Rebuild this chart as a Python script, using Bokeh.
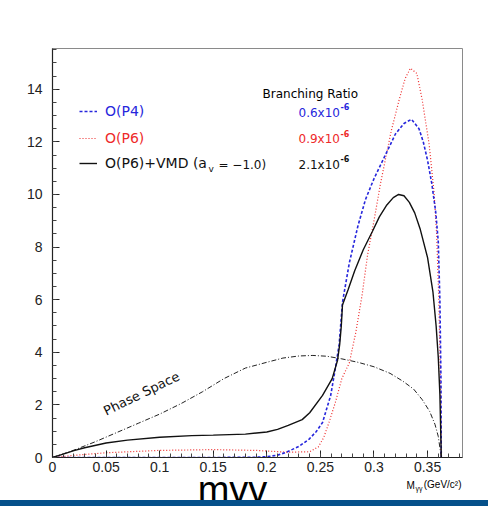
import numpy as np
from bokeh.plotting import figure
from bokeh.models import Label, Legend, LegendItem, FixedTicker, Div, Range1d, CustomJSTickFormatter
from bokeh.layouts import column
from bokeh.embed import file_html
from bokeh.resources import INLINE

# ---- data (M_gg in GeV/c^2, arbitrary units) ----
m_vmd = [0, 0.01, 0.02, 0.03, 0.05, 0.07, 0.1, 0.13, 0.15, 0.18, 0.2, 0.21, 0.22,
         0.233, 0.24, 0.252, 0.261, 0.266, 0.268, 0.2695, 0.2706, 0.276, 0.282, 0.29,
         0.2986, 0.305, 0.312, 0.318, 0.323, 0.328, 0.333, 0.338, 0.343, 0.35, 0.355,
         0.358, 0.36, 0.3615, 0.3628]
v_vmd = [0, 0.13, 0.26, 0.37, 0.55, 0.66, 0.77, 0.83, 0.85, 0.89, 0.97, 1.07, 1.22,
         1.44, 1.7, 2.36, 3.0, 3.7, 4.3, 5.0, 5.8, 6.4, 7.1, 7.9,
         8.6, 9.15, 9.6, 9.88, 10.0, 9.95, 9.7, 9.3, 8.7, 7.6, 6.3,
         5.0, 3.8, 2.4, 0]

m_p4 = [0, 0.05, 0.1, 0.15, 0.19, 0.2, 0.21, 0.2175, 0.23, 0.2395, 0.246, 0.252,
        0.2596, 0.264, 0.2675, 0.2706, 0.277, 0.285, 0.292, 0.3, 0.31, 0.32, 0.328,
        0.335, 0.342, 0.346, 0.35, 0.354, 0.3577, 0.36, 0.3615, 0.3625, 0.3628]
v_p4 = [0, 0, 0, 0, 0.01, 0.03, 0.09, 0.19, 0.42, 0.7, 0.98, 1.33,
        2.36, 3.4, 4.3, 5.9, 7.4, 8.8, 9.8, 10.6, 11.45, 12.3, 12.7,
        12.86, 12.5, 12.0, 11.3, 10.4, 9.3, 8.2, 6.0, 3.0, 0]

m_p6 = [0, 0.02, 0.05, 0.1, 0.15, 0.19, 0.22, 0.24, 0.248, 0.253, 0.258, 0.264,
        0.27, 0.277, 0.283, 0.289, 0.294, 0.3, 0.306, 0.316, 0.3235, 0.329, 0.334,
        0.34, 0.345, 0.3515, 0.356, 0.3585, 0.3605, 0.362, 0.3628]
v_p6 = [0, 0.08, 0.18, 0.27, 0.3, 0.27, 0.2, 0.22, 0.4, 0.75, 1.33, 2.1,
        3.0, 3.6, 4.75, 6.2, 7.7, 9.0, 10.4, 12.4, 13.6, 14.4, 14.8,
        14.6, 13.6, 11.9, 10.1, 8.5, 6.0, 3.0, 0]

m_ps = [0, 0.02, 0.04, 0.06, 0.08, 0.1, 0.12, 0.14, 0.16, 0.18, 0.2, 0.215, 0.23,
        0.243, 0.256, 0.27, 0.285, 0.3, 0.315, 0.327, 0.337, 0.345, 0.352, 0.357,
        0.36, 0.3628]
v_ps = [0, 0.28, 0.6, 0.95, 1.3, 1.65, 2.05, 2.5, 3.0, 3.4, 3.62, 3.78, 3.86,
        3.88, 3.85, 3.75, 3.62, 3.45, 3.2, 2.9, 2.6, 2.2, 1.75, 1.25,
        0.8, 0]

x_ticks = [0.0, 0.05, 0.1, 0.15, 0.2, 0.25, 0.3, 0.35]
x_tick_labels = ["0", "0.05", "0.1", "0.15", "0.2", "0.25", "0.3", "0.35"]
y_ticks = [0.0, 2.0, 4.0, 6.0, 8.0, 10.0, 12.0, 14.0]
y_tick_labels = ["0", "2", "4", "6", "8", "10", "12", "14"]

series_names = ["O(P4)", "O(P6)", "O(P6)+VMD (a"]
branching = ["0.6x10", "0.9x10", "2.1x10"]

BLUE = "#2626dc"
RED = "#ee2a2a"
BLACK = "#111111"

X0, X1 = 0.0, 0.3826
Y0, Y1 = 0.0, 15.55

p = figure(width=488, height=479, output_backend="svg", toolbar_location=None,
           x_range=Range1d(X0, X1), y_range=Range1d(Y0, Y1),
           min_border_left=52, min_border_right=26, min_border_top=48,
           min_border_bottom=22)
p.background_fill_color = "white"
p.border_fill_color = "white"
p.outline_line_color = "#8a8a8a"
p.outline_line_width = 1
p.xgrid.visible = False
p.ygrid.visible = False

p.xaxis.ticker = FixedTicker(ticks=x_ticks,
                             minor_ticks=[float(v) for v in np.round(np.arange(0, 0.381, 0.01), 3)])
p.yaxis.ticker = FixedTicker(ticks=y_ticks,
                             minor_ticks=[float(v) for v in np.arange(0, 15.6, 0.5)])
p.xaxis.formatter = CustomJSTickFormatter(
    code="var s = tick.toFixed(2); if (s.indexOf('.')>=0) { s = s.replace(/0+$/, '').replace(/\\.$/, ''); } return s;")
p.yaxis.formatter = CustomJSTickFormatter(code="return tick.toFixed(0);")
p.xaxis.major_label_overrides = dict(zip(x_ticks, x_tick_labels))
p.yaxis.major_label_overrides = dict(zip(y_ticks, y_tick_labels))

for ax in (p.xaxis[0], p.yaxis[0]):
    ax.major_tick_in = 7
    ax.major_tick_out = 0
    ax.minor_tick_in = 4
    ax.minor_tick_out = 0
    ax.axis_line_color = "#222222"
    ax.axis_line_width = 1.2
    ax.major_tick_line_color = "#222222"
    ax.minor_tick_line_color = "#444444"
    ax.major_label_text_font = "Liberation Sans"
    ax.major_label_text_font_size = "14px"
    ax.major_label_text_color = "#222222"
p.yaxis.major_label_standoff = 10
p.xaxis.major_label_standoff = 4

# ---- curves ----
r_ps = p.line(m_ps, v_ps, line_color="#222222", line_width=1, line_dash="5 2 1 2")
r_p6 = p.line(m_p6, v_p6, line_color=RED, line_width=1.2, line_dash="1 2")
r_p4 = p.line(m_p4, v_p4, line_color=BLUE, line_width=1.6, line_dash="3 2")
r_vmd = p.line(m_vmd, v_vmd, line_color=BLACK, line_width=1.4)

# ---- legend (one Legend per row so each label keeps its own colour) ----
def px2x(px):
    return (px - 60) / 410.0 * (X1 - X0)

def py2y(py):
    return (465 - py) / 409.0 * (Y1 - Y0)

rows_py = [120, 146.5, 172]
renderers = [r_p4, r_p6, r_vmd]
colors = [BLUE, RED, BLACK]
for name, r, col, py in zip(series_names, renderers, colors, rows_py):
    leg = Legend(items=[LegendItem(label=name, renderers=[r])],
                 location=(27, 465 - py - 7))
    leg.background_fill_alpha = 0
    leg.border_line_alpha = 0
    leg.padding = 0
    leg.margin = 0
    leg.spacing = 0
    leg.glyph_width = 18
    leg.glyph_height = 14
    leg.label_height = 14
    leg.label_standoff = 8
    leg.label_text_font = "DejaVu Sans"
    leg.label_text_font_size = "14px"
    leg.label_text_color = col
    leg.label_text_baseline = "middle"
    p.add_layout(leg)

def add_label(fig, x, y, text, size, color="black", font="DejaVu Sans", align="left",
              baseline="middle", angle=0, style="normal"):
    lab = Label(x=x, y=y, text=text, text_font=font,
                text_font_size=size, text_color=color, text_align=align,
                text_baseline=baseline, angle=angle, angle_units="deg",
                text_font_style=style)
    fig.add_layout(lab)

add_label(p, px2x(270), py2y(101), "Branching Ratio", "12px")
for txt, col, py in zip(branching, colors, rows_py):
    add_label(p, px2x(306), py2y(py), txt, "12px", color=col)
    add_label(p, px2x(348), py2y(py - 6), "-6", "8px", color=col, style="bold")

# subscript and rest of the VMD label
add_label(p, px2x(216), py2y(176), "v", "9px", color=BLACK)
add_label(p, px2x(226), py2y(172), "= \u22121.0)", "12px", color=BLACK)

add_label(p, px2x(149), py2y(401), "Phase Space", "13px", color="#111111",
          align="center", angle=26)

# ---- band under the axis: axis title and slide caption ----
# its frame is aligned with the main frame (page x 60..470), band spans page y 487..508
b = figure(width=488, height=21, output_backend="svg", toolbar_location=None,
           x_range=Range1d(60, 470), y_range=Range1d(0, 21),
           x_axis_type=None, y_axis_type=None,
           min_border_left=0, min_border_right=0, min_border_top=0, min_border_bottom=0)
b.outline_line_color = None
b.xgrid.visible = False
b.ygrid.visible = False
b.background_fill_color = "white"
b.border_fill_color = "white"

def by(py):
    return 508 - py

add_label(b, 414, by(493), "M", "10px", font="Liberation Sans")
add_label(b, 423, by(496), "\u03b3\u03b3", "7px", font="Liberation Sans")
add_label(b, 469, by(492), "(GeV/c\u00b2)", "10px", font="Liberation Sans", align="right")
add_label(b, 240, by(497.5), "m\u03b3\u03b3", "38px", font="Liberation Sans",
          align="center", baseline="alphabetic")

strip = Div(text="", width=488, height=6,
            styles={"background-color": "#05508a", "margin": "0", "padding": "0"})

layout = column(p, b, strip, spacing=0)
open("out.html", "w").write(file_html(layout, INLINE))
